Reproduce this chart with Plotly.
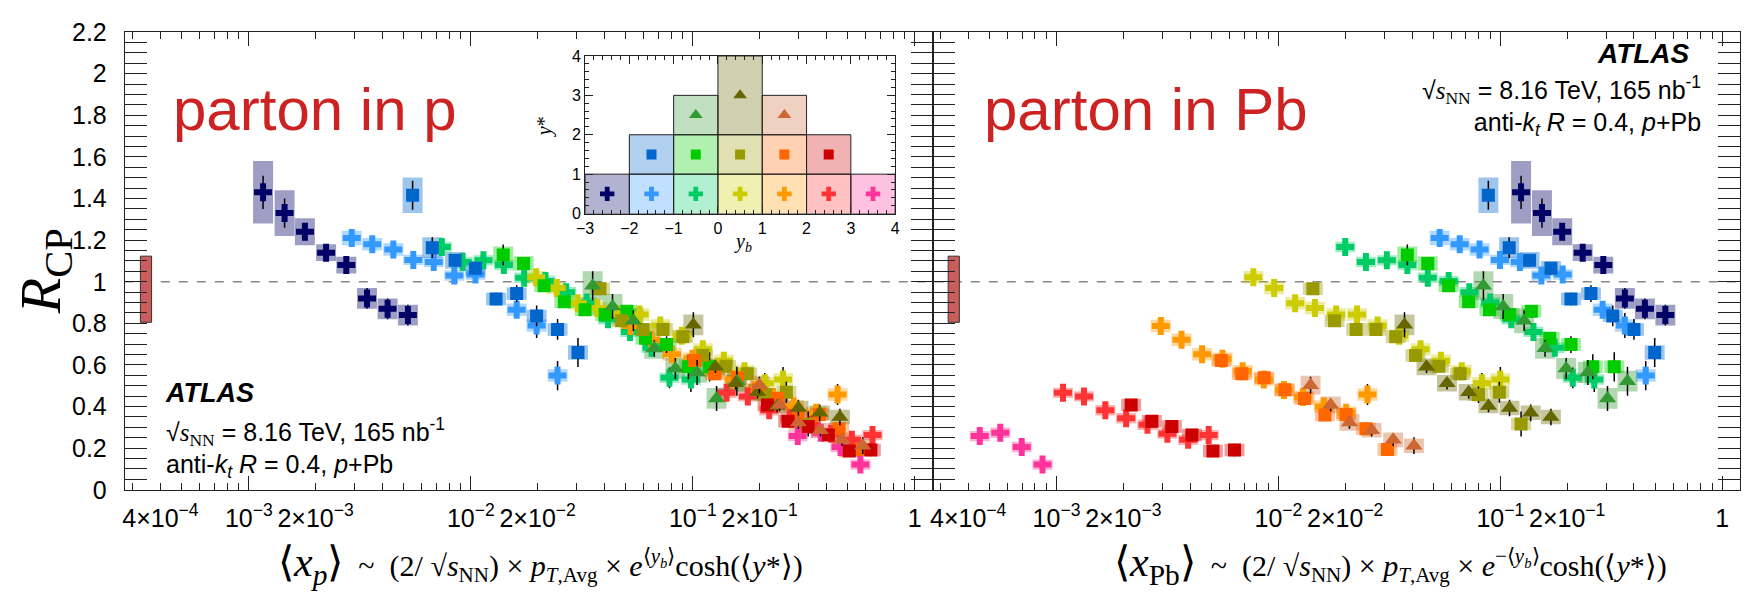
import plotly.graph_objects as go

W, H = 1748, 602

# ---------------- data ----------------
# navy crosses: -3<y_b<-2, 0<y*<1
NAVY_R = [1.43, 1.33, 1.24, 1.14, 1.08, 0.92, 0.87, 0.84]
NAVY_XP = [1.16e-3, 1.45e-3, 1.79e-3, 2.23e-3, 2.75e-3, 3.41e-3, 4.22e-3, 5.21e-3]
NAVY_XPB = [0.124, 0.154, 0.190, 0.235, 0.291, 0.364, 0.448, 0.554]
NAVY_STAT = [0.08, 0.07, 0.03, 0.03, 0.04, 0.05, 0.05, 0.05]
NAVY_SYS = [0.15, 0.11, 0.065, 0.04, 0.04, 0.05, 0.05, 0.05]

# light-blue crosses: -2<y_b<-1, 0<y*<1
LBC_R = [1.21, 1.18, 1.155, 1.105, 1.095, 1.03, 1.035, 0.866, 0.79, 0.549]
LBC_XP = [2.91e-3, 3.60e-3, 4.48e-3, 5.51e-3, 6.81e-3, 8.43e-3, 1.05e-2, 1.61e-2, 1.98e-2, 2.46e-2]
LBC_XPB = [0.0533, 0.0656, 0.0806, 0.0996, 0.1225, 0.153, 0.191, 0.289, 0.364, 0.452]
LBC_STAT = [0.03, 0.02, 0.02, 0.02, 0.02, 0.02, 0.02, 0.04, 0.06, 0.07]
LBC_SYS = [0.035, 0.03, 0.03, 0.025, 0.025, 0.025, 0.025, 0.03, 0.03, 0.03]

# blue squares: -2<y_b<-1, 1<y*<2
BSQ_R = [1.416, 1.164, 1.103, 1.065, 0.917, 0.943, 0.836, 0.771, 0.66]
BSQ_XP = [5.47e-3, 6.71e-3, 8.5e-3, 1.05e-2, 1.30e-2, 1.61e-2, 1.98e-2, 2.46e-2, 3.04e-2]
BSQ_XPB = [0.0883, 0.1096, 0.1355, 0.169, 0.208, 0.256, 0.321, 0.40, 0.496]
BSQ_STAT = [0.07, 0.05, 0.03, 0.03, 0.03, 0.04, 0.05, 0.05, 0.07]
BSQ_SYS = [0.085, 0.05, 0.04, 0.035, 0.03, 0.03, 0.03, 0.03, 0.035]

# green crosses: -1<y_b<0, 0<y*<1
GC_R = [1.167, 1.095, 1.103, 1.080, 1.019, 1.004, 0.95, 0.90, 0.82, 0.759, 0.683, 0.538, 0.530]
GC_XP = [7.41e-3, 9.19e-3, 1.14e-2, 1.41e-2, 1.74e-2, 2.17e-2, 2.69e-2, 3.33e-2, 4.15e-2, 5.22e-2, 6.52e-2, 7.85e-2, 9.81e-2]
GC_XPB = [0.0200, 0.0248, 0.0308, 0.0381, 0.0471, 0.0585, 0.0725, 0.090, 0.112, 0.141, 0.176, 0.212, 0.265]
GC_STAT = [0.02, 0.02, 0.02, 0.02, 0.02, 0.02, 0.02, 0.02, 0.03, 0.03, 0.04, 0.05, 0.06]
GC_SYS = [0.025, 0.025, 0.025, 0.025, 0.025, 0.025, 0.025, 0.025, 0.025, 0.025, 0.025, 0.025, 0.025]

# green squares: -1<y_b<0, 1<y*<2
GSQ_R = [1.129, 1.088, 0.981, 0.904, 0.866, 0.843, 0.858, 0.729, 0.698, 0.591, 0.591]
GSQ_XP = [1.40e-2, 1.73e-2, 2.14e-2, 2.64e-2, 3.27e-2, 4.03e-2, 5.05e-2, 6.12e-2, 7.62e-2, 9.56e-2, 0.119]
GSQ_XPB = [0.0381, 0.0471, 0.0585, 0.072, 0.0893, 0.110, 0.138, 0.167, 0.208, 0.261, 0.326]
GSQ_STAT = [0.05, 0.03, 0.02, 0.02, 0.02, 0.02, 0.03, 0.03, 0.04, 0.06, 0.07]
GSQ_SYS = [0.04, 0.035, 0.03, 0.03, 0.03, 0.03, 0.03, 0.03, 0.03, 0.03, 0.03]

# green triangles: -1<y_b<0, 2<y*<3
GTR_R = [0.981, 0.881, 0.813, 0.680, 0.583, 0.564, 0.439, 0.522]
GTR_XP = [0.0354, 0.0435, 0.054, 0.0671, 0.0835, 0.1046, 0.128, 0.158]
GTR_XPB = [0.0839, 0.103, 0.128, 0.159, 0.198, 0.248, 0.304, 0.374]
GTR_STAT = [0.07, 0.06, 0.05, 0.04, 0.05, 0.06, 0.06, 0.07]
GTR_SYS = [0.07, 0.06, 0.06, 0.05, 0.05, 0.05, 0.05, 0.05]

# yellow crosses: 0<y_b<1, 0<y*<1
YC_R = [1.022, 0.970, 0.897, 0.874, 0.843, 0.843, 0.79, 0.74, 0.675, 0.62, 0.57, 0.512, 0.530]
YC_XP = [1.97e-2, 2.44e-2, 3.03e-2, 3.72e-2, 4.64e-2, 5.76e-2, 7.14e-2, 8.93e-2, 0.111, 0.138, 0.171, 0.211, 0.255]
YC_XPB = [7.71e-3, 9.57e-3, 0.0119, 0.0146, 0.0182, 0.0226, 0.028, 0.035, 0.0437, 0.054, 0.067, 0.0826, 0.100]
YC_STAT = [0.02, 0.02, 0.02, 0.02, 0.02, 0.02, 0.02, 0.02, 0.03, 0.03, 0.04, 0.05, 0.06]
YC_SYS = [0.03, 0.03, 0.03, 0.03, 0.03, 0.03, 0.03, 0.03, 0.03, 0.03, 0.03, 0.03, 0.03]

# olive squares: 0<y_b<1, 1<y*<2
OSQ_R = [0.966, 0.813, 0.771, 0.771, 0.736, 0.645, 0.594, 0.558, 0.457, 0.469, 0.316]
OSQ_XP = [0.0382, 0.0478, 0.0598, 0.0734, 0.0902, 0.111, 0.141, 0.176, 0.213, 0.264, 0.331]
OSQ_XPB = [0.0143, 0.0179, 0.0224, 0.0275, 0.0338, 0.0415, 0.0528, 0.0659, 0.0797, 0.099, 0.124]
OSQ_STAT = [0.03, 0.02, 0.02, 0.02, 0.02, 0.02, 0.02, 0.03, 0.04, 0.05, 0.06]
OSQ_SYS = [0.03, 0.03, 0.03, 0.03, 0.03, 0.03, 0.03, 0.03, 0.03, 0.03, 0.03]

# olive triangles: 0<y_b<1, 2<y*<4
OTR_R = [0.793, 0.591, 0.512, 0.469, 0.403, 0.393, 0.370, 0.350]
OTR_XP = [0.1006, 0.1265, 0.156, 0.196, 0.240, 0.299, 0.373, 0.460]
OTR_XPB = [0.037, 0.0465, 0.0575, 0.072, 0.0884, 0.110, 0.137, 0.169]
OTR_STAT = [0.06, 0.03, 0.03, 0.03, 0.03, 0.04, 0.04, 0.04]
OTR_SYS = [0.05, 0.04, 0.04, 0.04, 0.035, 0.035, 0.035, 0.035]

# orange crosses: 1<y_b<2, 0<y*<1
OC_R = [0.787, 0.721, 0.652, 0.63, 0.57, 0.53, 0.48, 0.446, 0.40, 0.37, 0.458]
OC_XP = [0.0525, 0.0651, 0.0806, 0.0997, 0.123, 0.153, 0.189, 0.230, 0.285, 0.360, 0.449]
OC_XPB = [2.95e-3, 3.66e-3, 4.53e-3, 5.6e-3, 6.9e-3, 8.6e-3, 0.0106, 0.0129, 0.016, 0.0202, 0.0252]
OC_STAT = [0.02, 0.02, 0.02, 0.02, 0.02, 0.02, 0.02, 0.02, 0.03, 0.03, 0.05]
OC_SYS = [0.03, 0.03, 0.03, 0.03, 0.03, 0.03, 0.03, 0.03, 0.03, 0.03, 0.03]

# orange squares: 1<y_b<2, 1<y*<2
ORSQ_R = [0.622, 0.558, 0.538, 0.481, 0.439, 0.359, 0.362, 0.293, 0.194]
ORSQ_XP = [0.1018, 0.1259, 0.159, 0.197, 0.241, 0.298, 0.372, 0.456, 0.570]
ORSQ_XPB = [5.53e-3, 6.84e-3, 8.63e-3, 0.0107, 0.0131, 0.0162, 0.0202, 0.0248, 0.031]
ORSQ_STAT = [0.02, 0.02, 0.02, 0.02, 0.02, 0.02, 0.02, 0.03, 0.03]
ORSQ_SYS = [0.03, 0.03, 0.03, 0.03, 0.03, 0.03, 0.03, 0.03, 0.03]

# orange triangles: 1<y_b<2, 2<y*<3
ORTR_R = [0.503, 0.408, 0.324, 0.286, 0.240, 0.212]
ORTR_XP = [0.1996, 0.246, 0.299, 0.376, 0.470, 0.583]
ORTR_XPB = [0.01396, 0.0172, 0.0209, 0.0263, 0.0329, 0.0408]
ORTR_STAT = [0.04, 0.03, 0.03, 0.03, 0.03, 0.04]
ORTR_SYS = [0.045, 0.04, 0.04, 0.035, 0.035, 0.035]

# red crosses: 2<y_b<3, 0<y*<1
RC_R = [0.466, 0.449, 0.382, 0.344, 0.313, 0.270, 0.240, 0.263]
RC_XP = [0.142, 0.177, 0.221, 0.274, 0.342, 0.420, 0.521, 0.645]
RC_XPB = [1.07e-3, 1.33e-3, 1.66e-3, 2.06e-3, 2.57e-3, 3.16e-3, 3.92e-3, 4.85e-3]
RC_STAT = [0.02, 0.02, 0.02, 0.02, 0.02, 0.02, 0.03, 0.03]
RC_SYS = [0.025, 0.025, 0.025, 0.025, 0.025, 0.025, 0.025, 0.025]

# red squares: 2<y_b<3, 1<y*<2
RSQ_R = [0.408, 0.329, 0.304, 0.263, 0.186, 0.191]
RSQ_XP = [0.217, 0.269, 0.331, 0.408, 0.507, 0.634]
RSQ_XPB = [2.17e-3, 2.69e-3, 3.31e-3, 4.08e-3, 5.07e-3, 6.34e-3]
RSQ_STAT = [0.02, 0.02, 0.02, 0.02, 0.02, 0.03]
RSQ_SYS = [0.03, 0.03, 0.03, 0.03, 0.03, 0.03]

# pink crosses: 3<y_b<4, 0<y*<1
PC_R = [0.258, 0.274, 0.206, 0.121]
PC_XP = [0.297, 0.377, 0.463, 0.569]
PC_XPB = [4.51e-4, 5.58e-4, 6.97e-4, 8.65e-4]
PC_STAT = [0.02, 0.02, 0.02, 0.02]
PC_SYS = [0.025, 0.025, 0.025, 0.025]

# global normalisation uncertainty box
NORM_LO, NORM_HI = 0.805, 1.123
NORM_X = [3.25e-4, 3.65e-4]

# inset: (y_b, y*) bins
CELL_YB_LO = [-3, -2, -1, 0, 1, 2, 3, -2, -1, 0, 1, 2, -1, 0, 1]
CELL_YB_HI = [-2, -1, 0, 1, 2, 3, 4, -1, 0, 1, 2, 3, 0, 1, 2]
CELL_YS_LO = [0, 0, 0, 0, 0, 0, 0, 1, 1, 1, 1, 1, 2, 2, 2]
CELL_YS_HI = [1, 1, 1, 1, 1, 1, 1, 2, 2, 2, 2, 2, 3, 4, 3]
CELL_MARK_Y = [0.5, 0.5, 0.5, 0.5, 0.5, 0.5, 0.5, 1.5, 1.5, 1.5, 1.5, 1.5, 2.5, 3.0, 2.5]

X_LABEL_VALS = [4e-4, 1e-3, 2e-3, 1e-2, 2e-2, 1e-1, 2e-1, 1]
X_LABEL_TEXT = ["4×10<sup>−4</sup>", "10<sup>−3</sup>", "2×10<sup>−3</sup>", "10<sup>−2</sup>",
                "2×10<sup>−2</sup>", "10<sup>−1</sup>", "2×10<sup>−1</sup>", "1"]
Y_TICK_VALS = [0, 0.2, 0.4, 0.6, 0.8, 1.0, 1.2, 1.4, 1.6, 1.8, 2.0, 2.2]
Y_TICK_TEXT = ["0", "0.2", "0.4", "0.6", "0.8", "1", "1.2", "1.4", "1.6", "1.8", "2", "2.2"]

# ---------------- styling ----------------
SANS = "Liberation Sans"
SERIF = "Liberation Serif"
AX = "#222222"

SERIES = [
    (NAVY_XP, NAVY_XPB, NAVY_R, NAVY_STAT, NAVY_SYS, "#000066", "cross", 15),
    (LBC_XP, LBC_XPB, LBC_R, LBC_STAT, LBC_SYS, "#3399ff", "cross", 15),
    (GC_XP, GC_XPB, GC_R, GC_STAT, GC_SYS, "#00cc66", "cross", 15),
    (YC_XP, YC_XPB, YC_R, YC_STAT, YC_SYS, "#cccc00", "cross", 15),
    (OC_XP, OC_XPB, OC_R, OC_STAT, OC_SYS, "#ff9900", "cross", 15),
    (RC_XP, RC_XPB, RC_R, RC_STAT, RC_SYS, "#ff3333", "cross", 15),
    (PC_XP, PC_XPB, PC_R, PC_STAT, PC_SYS, "#ff3399", "cross", 15),
    (BSQ_XP, BSQ_XPB, BSQ_R, BSQ_STAT, BSQ_SYS, "#0066cc", "square", 13),
    (GSQ_XP, GSQ_XPB, GSQ_R, GSQ_STAT, GSQ_SYS, "#00cc00", "square", 13),
    (OSQ_XP, OSQ_XPB, OSQ_R, OSQ_STAT, OSQ_SYS, "#999900", "square", 13),
    (ORSQ_XP, ORSQ_XPB, ORSQ_R, ORSQ_STAT, ORSQ_SYS, "#ff6600", "square", 13),
    (RSQ_XP, RSQ_XPB, RSQ_R, RSQ_STAT, RSQ_SYS, "#cc0000", "square", 13),
    (GTR_XP, GTR_XPB, GTR_R, GTR_STAT, GTR_SYS, "#339933", "triangle-up", 15),
    (OTR_XP, OTR_XPB, OTR_R, OTR_STAT, OTR_SYS, "#666600", "triangle-up", 15),
    (ORTR_XP, ORTR_XPB, ORTR_R, ORTR_STAT, ORTR_SYS, "#cc6633", "triangle-up", 15),
]

BOX_F = 10 ** 0.045  # half-width of systematic boxes (in decades)


def rgba(h, a):
    h = h.lstrip("#")
    return "rgba(%d,%d,%d,%.2f)" % (int(h[0:2], 16), int(h[2:4], 16), int(h[4:6], 16), a)


def pxx(v):
    return v / W


def pxy(v):
    return 1 - v / H


# frame geometry (pixels)
L0, MID, R1 = 116.7, 931.0, 1745.0
YT, YB = 19.0, 499.0
X_RANGE = [-3.5585, 0.0800]

fig = go.Figure()

for col, (xa, ya) in enumerate([("x", "y"), ("x2", "y2")]):
    fig.add_trace(go.Scatter(
        x=[NORM_X[0], NORM_X[1], NORM_X[1], NORM_X[0], NORM_X[0]],
        y=[NORM_LO, NORM_LO, NORM_HI, NORM_HI, NORM_LO],
        xaxis=xa, yaxis=ya, mode="lines", fill="toself", fillcolor="#cd5c5c",
        line=dict(color="#333333", width=1), hoverinfo="skip", showlegend=False))
    for s in SERIES:
        xs = s[col]
        bx, by = [], []
        for x, r, e in zip(xs, s[2], s[4]):
            x0, x1 = x / BOX_F, x * BOX_F
            bx += [x0, x1, x1, x0, x0, None]
            by += [r - e, r - e, r + e, r + e, r - e, None]
        fig.add_trace(go.Scatter(x=bx, y=by, xaxis=xa, yaxis=ya, mode="lines", fill="toself",
                                 fillcolor=rgba(s[5], 0.38), line=dict(width=0),
                                 hoverinfo="skip", showlegend=False))
    for s in SERIES:
        fig.add_trace(go.Scatter(
            x=s[col], y=s[2], xaxis=xa, yaxis=ya, mode="markers",
            marker=dict(symbol=s[6], size=s[7], color=s[5], line=dict(width=0)),
            error_y=dict(type="data", array=s[3], color="black", thickness=1.5, width=0),
            showlegend=False))

# inset cells and markers
for i in range(len(CELL_YB_LO)):
    s = SERIES[i]
    x0, x1, y0, y1 = CELL_YB_LO[i], CELL_YB_HI[i], CELL_YS_LO[i], CELL_YS_HI[i]
    fig.add_trace(go.Scatter(x=[x0, x1, x1, x0, x0], y=[y0, y0, y1, y1, y0],
                             xaxis="x3", yaxis="y3", mode="lines", fill="toself",
                             fillcolor=rgba(s[5], 0.30), line=dict(color="#222222", width=1),
                             hoverinfo="skip", showlegend=False))
for i in range(len(CELL_YB_LO)):
    s = SERIES[i]
    fig.add_trace(go.Scatter(x=[(CELL_YB_LO[i] + CELL_YB_HI[i]) / 2], y=[CELL_MARK_Y[i]],
                             xaxis="x3", yaxis="y3", mode="markers",
                             marker=dict(symbol=s[6], size=s[7] - 3, color=s[5], line=dict(width=0)),
                             showlegend=False))

fig.add_trace(go.Scatter(x=[1e-2], y=[-5], xaxis="x4", yaxis="y", mode="markers",
                         marker=dict(opacity=0), showlegend=False, hoverinfo="skip"))
fig.add_trace(go.Scatter(x=[1e-2], y=[-5], xaxis="x5", yaxis="y2", mode="markers",
                         marker=dict(opacity=0), showlegend=False, hoverinfo="skip"))

minor_x = [m * 10 ** e for e in (-4, -3, -2, -1) for m in range(2, 10)]
minor_y = [round(0.05 * k, 2) for k in range(45) if k % 4 != 0]

x_common = dict(type="log", range=X_RANGE, showgrid=False, zeroline=False, showline=True,
                linecolor=AX, linewidth=1, ticks="inside", ticklen=14, tickwidth=1, tickcolor=AX,
                tickmode="array", tickvals=[1e-3, 1e-2, 1e-1, 1], showticklabels=False,
                mirror="allticks",
                minor=dict(tickmode="array", tickvals=minor_x, ticks="inside", ticklen=7,
                           tickwidth=1, tickcolor=AX))
x_label = dict(type="log", range=X_RANGE, showgrid=False, zeroline=False, showline=False,
               ticks="", tickmode="array", tickvals=X_LABEL_VALS, ticktext=X_LABEL_TEXT,
               tickfont=dict(family=SANS, size=25, color="black"), side="bottom",
               ticklabelstandoff=11)
y_common = dict(range=[0, 2.2], showgrid=False, zeroline=False, showline=True, linecolor=AX,
                linewidth=1, ticks="inside", ticklen=22, tickwidth=1, tickcolor=AX,
                tickmode="array", tickvals=Y_TICK_VALS, ticktext=Y_TICK_TEXT,
                mirror="allticks", domain=[pxy(YB), pxy(YT)],
                tickfont=dict(family=SANS, size=25, color="black"),
                minor=dict(tickmode="array", tickvals=minor_y, ticks="inside", ticklen=11,
                           tickwidth=1, tickcolor=AX))

IN_X0, IN_X1, IN_Y0, IN_Y1 = 580.7, 893.3, 44.0, 209.3
inset_common = dict(showgrid=False, zeroline=False, showline=True, linecolor=AX, linewidth=1,
                    ticks="inside", ticklen=8, tickwidth=1, tickcolor=AX, mirror="allticks",
                    dtick=1, tickfont=dict(family=SANS, size=16, color="black"),
                    minor=dict(dtick=0.2, ticks="inside", ticklen=4, tickwidth=1, tickcolor=AX))

fig.update_layout(
    width=W, height=H, margin=dict(l=0, r=0, t=0, b=0),
    paper_bgcolor="white", plot_bgcolor="white", showlegend=False,
    xaxis=dict(domain=[pxx(L0), pxx(MID)], anchor="y", **x_common),
    xaxis2=dict(domain=[pxx(MID), pxx(R1)], anchor="y2", **x_common),
    xaxis4=dict(overlaying="x", anchor="y", **x_label),
    xaxis5=dict(overlaying="x2", anchor="y2", **x_label),
    yaxis=dict(anchor="x", ticklabelstandoff=12, **y_common),
    yaxis2=dict(anchor="x2", **y_common),
    xaxis3=dict(domain=[pxx(IN_X0), pxx(IN_X1)], range=[-3, 4], anchor="y3", **inset_common),
    yaxis3=dict(domain=[pxy(IN_Y1), pxy(IN_Y0)], range=[0, 4], anchor="x3", **inset_common),
)
fig.layout.yaxis2.showticklabels = False

fig.add_shape(type="line", xref="paper", yref="y", x0=pxx(L0), x1=pxx(R1), y0=1, y1=1,
              line=dict(color="#888888", width=1.3, dash="dash"), layer="below")


def note(xp, yp, text, size, family=SANS, color="black", xanchor="center", angle=0,
         align="center"):
    return dict(x=pxx(xp), y=pxy(yp), xref="paper", yref="paper", text=text, showarrow=False,
                xanchor=xanchor, yanchor="middle", textangle=angle, align=align,
                font=dict(family=family, size=size, color=color))


ann = []
ann.append(note(36, 270, "<i>R</i><sub>CP</sub>", 58, family=SERIF, angle=-90))
ann.append(note(163, 100, "parton in p", 60, color="#cc2222", xanchor="left"))
ann.append(note(981, 100, "parton in Pb", 60, color="#cc2222", xanchor="left"))

SQRT_S = "√<span style='font-family:Liberation Serif'><i>s</i><sub>NN</sub></span>"
LINE2 = SQRT_S + " = 8.16 TeV, 165 nb<sup>-1</sup>"
LINE3 = "anti-<i>k</i><sub><i>t</i></sub> <i>R</i> = 0.4, <i>p</i>+Pb"
ann.append(note(155, 398, "<b><i>ATLAS</i></b>", 27, xanchor="left"))
ann.append(note(156, 455, LINE2 + "<br>" + LINE3, 25, xanchor="left", align="left"))
ann.append(note(1697, 41, "<b><i>ATLAS</i></b>", 28, xanchor="right"))
ann.append(note(1708, 97, LINE2 + "<br>" + LINE3, 25, xanchor="right", align="right"))

SP = "\u00a0"
TAIL = (SP * 2 + "~" + SP * 2 + "(2/" + SP + "√<i>s</i><sub>NN</sub>)" + SP + "×" + SP +
        "<i>p</i><sub><i>T</i>,Avg</sub>" + SP + "×" + SP +
        "<i>e</i><sup>%s⟨<i>y</i><sub><i>b</i></sub>⟩</sup>cosh(⟨<i>y</i>*⟩)")
TITLE_L = "<span style='font-size:42px'>⟨<i>x</i><sub><i>p</i></sub>⟩</span>" + TAIL % ""
TITLE_R = "<span style='font-size:42px'>⟨<i>x</i><sub>Pb</sub>⟩</span>" + TAIL % "−"
ann.append(note(536, 578, TITLE_L, 30, family=SERIF))
ann.append(note(1393, 578, TITLE_R, 30, family=SERIF))

ann.append(note(540, 118, "<i>y</i>*", 20, family=SERIF, angle=-90))
ann.append(note(740, 240, "<i>y</i><sub><i>b</i></sub>", 20, family=SERIF))

fig.update_layout(annotations=ann)
fig.write_html("out.html")
